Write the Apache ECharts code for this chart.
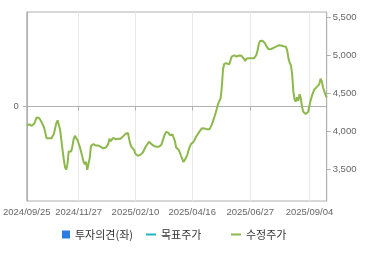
<!DOCTYPE html>
<html><head><meta charset="utf-8">
<script src="https://cdn.jsdelivr.net/npm/echarts@6/dist/echarts.min.js"></script>
<style>html,body{margin:0;padding:0;background:#fff}#c{width:370px;height:255px}</style>
</head><body><div id="c"></div>
<script>
const startDate = '2024-09-25';
const endDate = '2025-09-24';
const holidays = ['2024-10-01','2024-10-03','2024-10-09','2024-12-25','2024-12-31','2025-01-01',
  '2025-01-27','2025-01-28','2025-01-29','2025-01-30','2025-03-03','2025-05-01','2025-05-05',
  '2025-05-06','2025-06-03','2025-06-06','2025-08-15'];
const labelDates = ['2024/09/25','2024/11/27','2025/02/10','2025/04/16','2025/06/27','2025/09/04'];
const rightTicks = [3500, 4000, 4500, 5000, 5500];
const leftTicks = [0];
const seriesNames = ['투자의견(좌)', '목표주가', '수정주가'];
const opinion = [];
const targetPrice = [];
const adjPrice = [
4083,4088,4090,4066,4072,4087,4099,4125,4182,4191,
4174,4149,4122,4096,4050,3983,3908,3908,3908,3908,
3908,3921,3968,4043,4109,4145,4129,4020,3888,3754,
3628,3525,3496,3575,3736,3741,3734,3804,3899,3940,
3936,3886,3843,3793,3732,3667,3599,3567,3599,3492,
3499,3649,3805,3821,3833,3837,3813,3800,3812,3816,
3796,3776,3776,3778,3786,3793,3832,3904,3872,3886,
3913,3928,3896,3897,3903,3886,3901,3917,3933,3951,
3967,3983,3978,3892,3828,3788,3768,3755,3704,3684,
3679,3676,3690,3703,3722,3754,3786,3813,3838,3862,
3847,3832,3817,3809,3801,3797,3797,3797,3797,3821,
3871,3920,3966,3993,3986,3976,3949,3937,3959,3950,
3872,3788,3767,3758,3722,3675,3633,3595,3610,3653,
3687,3749,3796,3832,3843,3858,3883,3921,3949,3975,
3999,4022,4041,4047,4038,4027,4026,4026,4026,4049,
4092,4140,4188,4242,4300,4359,4398,4430,4577,4817,
4888,4909,4895,4911,4880,4886,4982,4999,4999,4990,
4982,4990,4999,5002,4994,4985,4953,4924,4957,4961,
4961,4961,4961,4961,4961,4971,5003,5066,5149,5190,
5199,5191,5182,5159,5125,5100,5079,5074,5083,5091,
5099,5107,5115,5123,5132,5133,5129,5124,5120,5118,
5112,5065,4960,4903,4870,4749,4517,4419,4391,4448,
4400,4490,4438,4325,4258,4236,4228,4228,4257,4336,
4407,4466,4513,4550,4570,4584,4567,4621,4693,4660,
4579,4528,4482,4445
];

function tradingDays(from, to, skip) {
  const out = [];
  const d = new Date(from + 'T00:00:00Z');
  const end = new Date(to + 'T00:00:00Z');
  while (d <= end) {
    const wd = d.getUTCDay();
    const iso = d.toISOString().slice(0, 10);
    if (wd !== 0 && wd !== 6 && skip.indexOf(iso) < 0) out.push(iso.replace(/-/g, '/'));
    d.setUTCDate(d.getUTCDate() + 1);
  }
  return out;
}
const dates = tradingDays(startDate, endDate, holidays);

const FONT = '"Liberation Sans", Arial, sans-serif';
const KFONT = '"Noto Sans CJK KR", "Noto Sans", sans-serif';
const showDate = (i, v) => labelDates.indexOf(v) >= 0;
const legendText = {fontFamily: KFONT, fontSize: 11, color: '#333'};

const chart = echarts.init(document.getElementById('c'), null, {renderer: 'canvas'});
chart.setOption({
  animation: false,
  grid: {left: 26.7, right: 43.3, top: 12, bottom: 54, show: true, borderColor: '#b0b0b0', borderWidth: 1, containLabel: false},
  legend: [
    {data: [seriesNames[0]], left: 62, top: 229, padding: 0, icon: 'rect', itemWidth: 8, itemHeight: 8, selectedMode: false,
     textStyle: legendText},
    {data: [seriesNames[1]], left: 146, top: 229, padding: 0, icon: 'rect', itemWidth: 10, itemHeight: 2, selectedMode: false,
     textStyle: legendText},
    {data: [seriesNames[2]], left: 231, top: 229, padding: 0, icon: 'rect', itemWidth: 10, itemHeight: 2, selectedMode: false,
     textStyle: legendText}
  ],
  xAxis: {
    type: 'category', data: dates, boundaryGap: false,
    axisLine: {lineStyle: {color: '#b0b0b0'}},
    axisTick: {show: true, interval: showDate, length: 4, lineStyle: {color: '#b0b0b0'}},
    axisLabel: {interval: showDate, margin: 6, fontFamily: FONT, fontSize: 9.5, color: '#666', showMinLabel: true, hideOverlap: false},
    splitLine: {show: true, interval: showDate, lineStyle: {color: '#e8e8e8'}}
  },
  yAxis: [
    {type: 'value', position: 'left', min: -1, max: 1,
     axisLine: {show: true, lineStyle: {color: '#b0b0b0'}},
     axisTick: {show: true, length: 4, customValues: leftTicks, lineStyle: {color: '#b0b0b0'}},
     axisLabel: {customValues: leftTicks, margin: 8, fontFamily: FONT, fontSize: 9.5, color: '#666'},
     splitLine: {show: true, lineStyle: {color: '#e8e8e8'}}},
    {type: 'value', position: 'right', min: 3083, max: 5570,
     axisLine: {show: true, lineStyle: {color: '#b0b0b0'}},
     axisTick: {show: true, length: 4, customValues: rightTicks, lineStyle: {color: '#b0b0b0'}},
     axisLabel: {customValues: rightTicks, margin: 6, fontFamily: FONT, fontSize: 9.5, color: '#666',
       formatter: v => v.toLocaleString('en-US')},
     splitLine: {show: false}}
  ],
  series: [
    {name: seriesNames[0], type: 'bar', yAxisIndex: 0, data: opinion, itemStyle: {color: '#2b7be0'}},
    {name: seriesNames[1], type: 'line', yAxisIndex: 1, data: targetPrice, showSymbol: false,
     itemStyle: {color: '#1fb5c3'}, lineStyle: {color: '#1fb5c3', width: 2}},
    {name: seriesNames[2], type: 'line', yAxisIndex: 1, data: adjPrice, showSymbol: false,
     itemStyle: {color: '#8db84c'}, lineStyle: {color: '#8db84c', width: 2}}
  ]
});
</script></body></html>
